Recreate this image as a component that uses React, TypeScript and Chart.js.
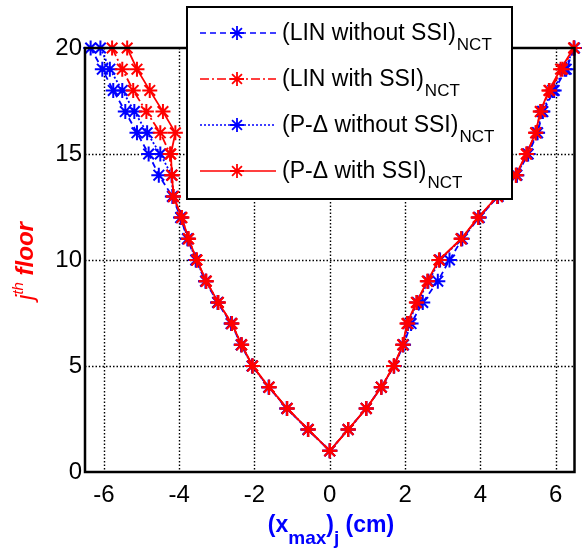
import React, { useEffect, useRef } from 'react';
import { Chart, registerables } from 'chart.js';

Chart.register(...registerables);

// Floors along each V-shaped path: floor 20 (negative side) down to floor 1, then back up to floor 20 (positive side)
const pathFloors = [20, 19, 18, 17, 16, 15, 14, 13, 12, 11, 10, 9, 8, 7, 6, 5, 4, 3, 2, 1, 2, 3, 4, 5, 6, 7, 8, 9, 10, 11, 12, 13, 14, 15, 16, 17, 18, 19, 20];

const linWithoutSsi = [
  -6.35, -6.04, -5.75, -5.43, -5.12, -4.81, -4.54, -4.18, -3.96, -3.78, -3.56, -3.30, -2.98, -2.62, -2.35, -2.06, -1.62, -1.14, -0.58,
  0,
  0.49, 0.97, 1.37, 1.71, 1.96, 2.16, 2.47, 2.87, 3.18, 3.52, 3.97, 4.47, 4.97, 5.27, 5.52, 5.66, 5.96, 6.28, 6.50,
];
const linWithSsi = [
  -5.78, -5.51, -5.22, -4.87, -4.50, -4.24, -4.19, -4.15, -3.93, -3.75, -3.53, -3.28, -2.96, -2.60, -2.34, -2.05, -1.61, -1.13, -0.57,
  0,
  0.49, 0.97, 1.37, 1.70, 1.94, 2.07, 2.31, 2.60, 2.91, 3.49, 3.95, 4.45, 4.95, 5.23, 5.47, 5.60, 5.84, 6.18, 6.48,
];
const pdWithoutSsi = [
  -6.09, -5.84, -5.51, -5.19, -4.85, -4.50, -4.20, -4.16, -3.95, -3.77, -3.55, -3.29, -2.97, -2.61, -2.35, -2.06, -1.62, -1.14, -0.58,
  0,
  0.49, 0.97, 1.37, 1.71, 1.95, 2.08, 2.33, 2.62, 2.93, 3.50, 3.96, 4.46, 4.96, 5.25, 5.50, 5.64, 5.92, 6.24, 6.49,
];
const pdWithSsi = [
  -5.38, -5.12, -4.78, -4.43, -4.10, -4.22, -4.19, -4.15, -3.93, -3.75, -3.53, -3.28, -2.96, -2.60, -2.34, -2.05, -1.61, -1.13, -0.57,
  0,
  0.49, 0.97, 1.37, 1.70, 1.94, 2.05, 2.30, 2.59, 2.90, 3.49, 3.94, 4.45, 4.94, 5.22, 5.47, 5.59, 5.82, 6.13, 6.48,
];

const seriesLabels = ['(LIN without SSI)', '(LIN with SSI)', '(P-Δ without SSI)', '(P-Δ with SSI)'];
const seriesSubscript = 'NCT';
const xTicks = [-6, -4, -2, 0, 2, 4, 6];
const yTicks = [0, 5, 10, 15, 20];

const FONT = '"Liberation Sans", Arial, Helvetica, sans-serif';
const BLUE = '#0000ff';
const RED = '#ff0000';

const seriesStyles = [
  { color: BLUE, dash: [6, 4], order: 3 },
  { color: RED, dash: [9, 3, 2, 3], order: 1 },
  { color: BLUE, dash: [2, 2], order: 2 },
  { color: RED, dash: [] as number[], order: 0 },
];
const seriesValues = [linWithoutSsi, linWithSsi, pdWithoutSsi, pdWithSsi];

function drawStar(ctx: CanvasRenderingContext2D, x: number, y: number, r: number) {
  ctx.beginPath();
  ctx.moveTo(x - r, y); ctx.lineTo(x + r, y);
  ctx.moveTo(x, y - r); ctx.lineTo(x, y + r);
  const d = r * Math.SQRT1_2;
  ctx.moveTo(x - d, y - d); ctx.lineTo(x + d, y + d);
  ctx.moveTo(x - d, y + d); ctx.lineTo(x + d, y - d);
  ctx.stroke();
}

const overlayPlugin = {
  id: 'overlay',
  beforeDatasetsDraw(chart: any) {
    const { ctx, chartArea: a, scales } = chart;
    ctx.save();
    ctx.strokeStyle = '#000';
    ctx.lineWidth = 1.4;
    ctx.setLineDash([1.5, 2]);
    for (const v of xTicks) {
      const px = Math.round(scales.x.getPixelForValue(v)) + 0.5;
      ctx.beginPath(); ctx.moveTo(px, a.top); ctx.lineTo(px, a.bottom); ctx.stroke();
    }
    for (const v of yTicks) {
      if (v === 0 || v === 20) continue;
      const py = Math.round(scales.y.getPixelForValue(v)) + 0.5;
      ctx.beginPath(); ctx.moveTo(a.left, py); ctx.lineTo(a.right, py); ctx.stroke();
    }
    ctx.restore();
  },
  afterDatasetsDraw(chart: any) {
    const { ctx, chartArea: a } = chart;
    ctx.save();
    ctx.strokeStyle = '#000';
    ctx.lineWidth = 2.5;
    ctx.setLineDash([]);
    ctx.strokeRect(a.left, a.top, a.right - a.left, a.bottom - a.top);
    ctx.restore();
  },
  afterDraw(chart: any) {
    const { ctx } = chart;
    ctx.save();
    // Legend
    const lx = 187, ly = 7, lw = 325, lh = 192;
    ctx.fillStyle = '#fff';
    ctx.fillRect(lx, ly, lw, lh);
    ctx.strokeStyle = '#000';
    ctx.lineWidth = 2;
    ctx.setLineDash([]);
    ctx.strokeRect(lx, ly, lw, lh);
    seriesLabels.forEach((label, i) => {
      const st = seriesStyles[i];
      const rowY = 33 + i * 46;
      ctx.strokeStyle = st.color;
      ctx.lineWidth = 1.6;
      ctx.setLineDash(st.dash);
      ctx.beginPath(); ctx.moveTo(200, rowY); ctx.lineTo(276, rowY); ctx.stroke();
      ctx.setLineDash([]);
      ctx.lineWidth = 1.8;
      drawStar(ctx, 237, rowY, 7);
      ctx.fillStyle = '#000';
      ctx.textAlign = 'left';
      ctx.textBaseline = 'alphabetic';
      ctx.font = `23px ${FONT}`;
      ctx.fillText(label, 282, rowY + 7);
      const w = ctx.measureText(label).width;
      ctx.font = `17px ${FONT}`;
      ctx.fillText(seriesSubscript, 282 + w + 1, rowY + 17);
    });

    // X axis title: (x_max)_j (cm)
    ctx.fillStyle = BLUE;
    ctx.textBaseline = 'alphabetic';
    ctx.textAlign = 'left';
    const big = `bold 23px ${FONT}`;
    const small = `bold 19px ${FONT}`;
    const xParts: [string, string, number][] = [
      ['(x', big, 0], ['max', small, 12], [')', big, 0], ['j', small, 12], [' (cm)', big, 0],
    ];
    let total = 0;
    for (const [t, f] of xParts) { ctx.font = f; total += ctx.measureText(t).width; }
    let cx = 331 - total / 2;
    for (const [t, f, dy] of xParts) {
      ctx.font = f;
      ctx.fillText(t, cx, 532 + dy);
      cx += ctx.measureText(t).width;
    }

    // Y axis title: j^th floor (rotated)
    ctx.fillStyle = RED;
    const yParts: [string, string, number][] = [
      ['j', `italic 24px ${FONT}`, 0], ['th', `italic 15px ${FONT}`, -10], [' floor', `italic bold 24px ${FONT}`, 0],
    ];
    let ytotal = 0;
    for (const [t, f] of yParts) { ctx.font = f; ytotal += ctx.measureText(t).width; }
    ctx.translate(33, 261);
    ctx.rotate(-Math.PI / 2);
    let yx = -ytotal / 2;
    for (const [t, f, dy] of yParts) {
      ctx.font = f;
      ctx.fillText(t, yx, dy);
      yx += ctx.measureText(t).width;
    }
    ctx.restore();
  },
};

export default function App() {
  const canvasRef = useRef<HTMLCanvasElement | null>(null);

  useEffect(() => {
    if (!canvasRef.current) return;
    const datasets = seriesValues.map((vals, i) => ({
      label: seriesLabels[i],
      data: vals.map((x, k) => ({ x, y: pathFloors[k] })),
      showLine: true,
      borderColor: seriesStyles[i].color,
      backgroundColor: seriesStyles[i].color,
      borderWidth: 1.8,
      borderDash: seriesStyles[i].dash,
      pointStyle: 'star' as const,
      pointRadius: 7.5,
      pointBorderWidth: 2,
      pointBorderColor: seriesStyles[i].color,
      pointBackgroundColor: seriesStyles[i].color,
      tension: 0,
      clip: false as any,
      order: seriesStyles[i].order,
    }));

    const chart = new Chart(canvasRef.current, {
      type: 'scatter',
      data: { datasets },
      options: {
        responsive: false,
        animation: false,
        devicePixelRatio: 1,
        events: [],
        layout: { padding: { top: 48, right: 7, left: 0, bottom: 0 } },
        plugins: { legend: { display: false }, tooltip: { enabled: false } },
        scales: {
          x: {
            type: 'linear',
            min: -6.5,
            max: 6.5,
            afterBuildTicks: (s: any) => { s.ticks = xTicks.map((v) => ({ value: v })); },
            afterFit: (s: any) => { s.height = 82; },
            grid: { display: false, drawTicks: false },
            border: { display: false },
            ticks: {
              font: { family: FONT, size: 24 },
              color: '#000',
              padding: 9,
              maxRotation: 0,
              autoSkip: false,
              callback: (v: any) => String(v),
            },
          },
          y: {
            type: 'linear',
            min: 0,
            max: 20,
            afterBuildTicks: (s: any) => { s.ticks = yTicks.map((v) => ({ value: v })); },
            afterFit: (s: any) => { s.width = 85; },
            grid: { display: false, drawTicks: false },
            border: { display: false },
            ticks: {
              font: { family: FONT, size: 24 },
              color: '#000',
              padding: 3,
              autoSkip: false,
              callback: (v: any) => String(v),
            },
          },
        },
      },
      plugins: [overlayPlugin],
    });
    return () => chart.destroy();
  }, []);

  return (
    <div style={{ position: 'fixed', left: 0, top: 0, width: 584, height: 554, background: '#fff' }}>
      <canvas ref={canvasRef} width={584} height={554} style={{ display: 'block' }} />
    </div>
  );
}
